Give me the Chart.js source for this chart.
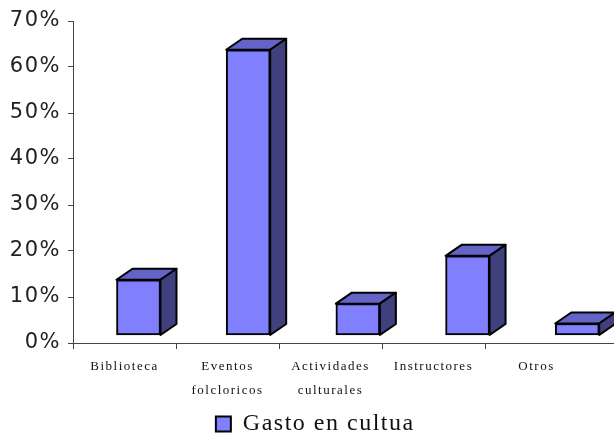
<!DOCTYPE html>
<html>
<head>
<meta charset="utf-8">
<script src="https://cdn.jsdelivr.net/npm/chart.js@4/dist/chart.umd.min.js"></script>
<style>
  html, body { margin: 0; padding: 0; background: #fff; }
  #wrap { width: 614px; height: 434px; }
</style>
</head>
<body>
<div id="wrap"><canvas id="chart"></canvas></div>
<script>
// ----------------------------------------------------------------
//  Datos
// ----------------------------------------------------------------
const categories = [['Biblioteca'], ['Eventos', 'folcloricos'], ['Actividades', 'culturales'], ['Instructores'], ['Otros']];
const gasto      = [0.12, 0.62, 0.068, 0.172, 0.025];
const yTicks     = [0, 0.1, 0.2, 0.3, 0.4, 0.5, 0.6, 0.7];
const seriesName = 'Gasto en cultua';

// ----------------------------------------------------------------
//  Caras 3D (tapa y lateral) de cada columna
// ----------------------------------------------------------------
const depth = { dx: 16, dy: 11 };

const bars3d = {
  id: 'bars3d',
  afterLayout(chart) {
    // leyenda algo desplazada a la derecha, como en el original
    chart.legend.left += 10;
    chart.legend.right += 10;
  },
  beforeDraw(chart) {
    chart.ctx.letterSpacing = '1.5px';
  },
  afterDatasetsDraw(chart) {
    const ctx = chart.ctx;
    chart.getDatasetMeta(0).data.forEach(bar => {
      const l = bar.x - bar.width / 2, r = bar.x + bar.width / 2;
      const t = bar.y, b = bar.base;
      ctx.save();
      ctx.lineWidth = 2;
      ctx.lineJoin = 'round';
      ctx.strokeStyle = '#000';
      // tapa
      ctx.beginPath();
      ctx.moveTo(l, t);
      ctx.lineTo(l + depth.dx, t - depth.dy);
      ctx.lineTo(r + depth.dx, t - depth.dy);
      ctx.lineTo(r, t);
      ctx.closePath();
      ctx.fillStyle = '#6464c8';
      ctx.fill();
      ctx.stroke();
      // lateral
      ctx.beginPath();
      ctx.moveTo(r, t);
      ctx.lineTo(r + depth.dx, t - depth.dy);
      ctx.lineTo(r + depth.dx, b - depth.dy);
      ctx.lineTo(r, b);
      ctx.closePath();
      ctx.fillStyle = '#40407f';
      ctx.fill();
      ctx.stroke();
      ctx.restore();
    });
  },
  afterDraw(chart) {
    // el eje X se prolonga hasta el borde derecho
    const ctx = chart.ctx, a = chart.chartArea;
    ctx.save();
    ctx.strokeStyle = '#444';
    ctx.lineWidth = 1;
    ctx.beginPath();
    ctx.moveTo(a.right, a.bottom + 0.5);
    ctx.lineTo(chart.width, a.bottom + 0.5);
    ctx.stroke();
    ctx.restore();
  }
};

new Chart(document.getElementById('chart'), {
  type: 'bar',
  data: {
    labels: categories,
    datasets: [{
      label: seriesName,
      data: gasto.map((v, i) => ({ x: i, y: v })),
      xAxisID: 'xb',
      yAxisID: 'yb',
      backgroundColor: '#8080ff',
      borderColor: '#000',
      borderWidth: 2,
      borderSkipped: false,
      barThickness: 44,
      clip: false,
    }]
  },
  options: {
    responsive: true,
    maintainAspectRatio: false,
    animation: false,
    layout: { padding: { top: 21, right: 26, left: 0, bottom: -12 } },
    plugins: {
      tooltip: { enabled: false },
      legend: {
        position: 'bottom',
        labels: {
          boxWidth: 15,
          boxHeight: 15,
          padding: 0,
          color: '#111',
          font: { family: 'Liberation Serif', size: 24, lineHeight: 1 }
        }
      }
    },
    scales: {
      x: {
        type: 'category',
        offset: true,
        grid: {
          offset: true,
          drawOnChartArea: false,
          tickLength: 6,
          color: ctx => ctx.type === 'tick' ? '#444' : 'rgba(0,0,0,0)'
        },
        border: { color: '#444' },
        ticks: {
          color: '#111',
          padding: 6,
          maxRotation: 0,
          autoSkip: false,
          font: { family: 'Liberation Serif', size: 13, lineHeight: 1.85 }
        },
        afterFit: s => { s.height = 69; }
      },
      y: {
        min: 0,
        max: 0.7,
        afterBuildTicks: s => { s.ticks = yTicks.map(v => ({ value: v })); },
        grid: { drawOnChartArea: false, tickLength: 5, color: '#444' },
        border: { color: '#444' },
        ticks: {
          color: '#222',
          padding: 7,
          font: { family: 'DejaVu Sans', size: 21 },
          callback: v => Math.round(v * 100) + '%'
        },
        afterFit: s => { s.width = 73; }
      },
      // ejes ocultos para la posición de las columnas (vista 3D)
      xb: { type: 'linear', display: false, offset: false, min: -0.597, max: 4.098 },
      yb: { display: false, min: -0.01745, max: 0.68255 }
    }
  },
  plugins: [bars3d]
});
</script>
</body>
</html>
